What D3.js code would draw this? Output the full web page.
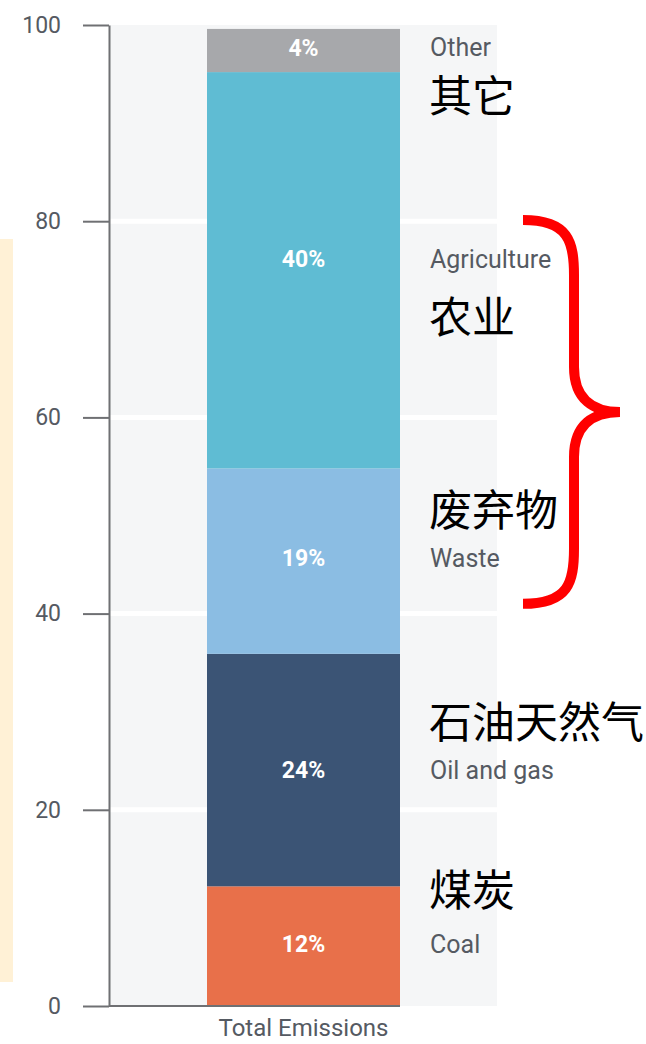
<!DOCTYPE html>
<html>
<head>
<meta charset="utf-8">
<script src="https://cdn.jsdelivr.net/npm/d3@7"></script>
<style>
  html, body { margin: 0; padding: 0; background: #ffffff; }
  svg { display: block; }
</style>
</head>
<body>
<svg id="chart" width="646" height="1044"></svg>
<script>
// Emission sources, bottom to top of the stacked column
const categories   = ["Coal", "Oil and gas", "Waste", "Agriculture", "Other"];
const categoriesZh = ["煤炭", "石油天然气", "废弃物", "农业", "其它"];
const shares       = [12.2, 23.7, 18.9, 40.4, 4.4];
const colors       = ["#e8704a", "#3b5475", "#8bbde3", "#5fbcd3", "#a7a8ab"];
const columns      = ["Total Emissions"];
const yTicks       = [0, 20, 40, 60, 80, 100];
const gridTicks    = [20, 40, 60, 80];
// Sources grouped under the red brace
const bracketGroup = ["Waste", "Agriculture"];

const svg = d3.select("#chart");
const plot = { left: 110, right: 497, top: 25, bottom: 1006 };

const y = d3.scaleLinear().domain([0, 100]).range([plot.bottom, plot.top]);
const x = d3.scaleBand().domain(columns).range([plot.left, plot.right]).padding(0.3345);

const greyText = "#555a62";
const axisGrey = "#6f7073";
const latin = "Roboto, 'Noto Sans', sans-serif";
const cjk = "'Noto Sans CJK SC', sans-serif";

// Side panel on the far left
svg.append("rect")
  .attr("x", 0).attr("y", 239).attr("width", 13).attr("height", 743)
  .attr("fill", "#fff1d6");

// Plot background with white gridlines
svg.append("rect")
  .attr("x", plot.left).attr("y", plot.top)
  .attr("width", plot.right - plot.left).attr("height", plot.bottom - plot.top)
  .attr("fill", "#f5f6f7");

svg.append("g").selectAll("line").data(gridTicks).join("line")
  .attr("x1", plot.left).attr("x2", plot.right)
  .attr("y1", d => y(d)).attr("y2", d => y(d))
  .attr("stroke", "#ffffff").attr("stroke-width", 5);

// Stacked segments
const stacked = [];
let acc = 0;
shares.forEach((v, i) => {
  stacked.push({ name: categories[i], zh: categoriesZh[i], value: v, y0: acc, y1: acc + v, color: colors[i] });
  acc += v;
});

const col = columns[0];
svg.append("g").selectAll("rect").data(stacked).join("rect")
  .attr("x", x(col)).attr("width", x.bandwidth())
  .attr("y", d => y(d.y1)).attr("height", d => y(d.y0) - y(d.y1))
  .attr("fill", d => d.color);

// Vertical nudges for the value labels (Agriculture sits a little high)
const labelNudge = [-2, 0, -3, -11, -3];

// Percent labels inside the column
svg.append("g").selectAll("text").data(stacked).join("text")
  .attr("x", x(col) + x.bandwidth() / 2)
  .attr("y", (d, i) => y((d.y0 + d.y1) / 2) + labelNudge[i])
  .attr("dy", "0.35em")
  .attr("text-anchor", "middle")
  .attr("fill", "#ffffff")
  .attr("font-family", latin).attr("font-weight", 700).attr("font-size", 23)
  .text(d => d3.format(".0f")(d.value) + "%");

// English category labels to the right of the column
const labelX = 430;
svg.append("g").selectAll("text").data(stacked).join("text")
  .attr("x", labelX)
  .attr("y", (d, i) => y((d.y0 + d.y1) / 2) + labelNudge[i])
  .attr("dy", "0.35em")
  .attr("fill", greyText)
  .attr("font-family", latin).attr("font-size", 25)
  .text(d => d.name);

// Chinese names, placed above or below the English ones
const zhOffset = [-54, -48, -48, 58, 49];
svg.append("g").selectAll("text").data(stacked).join("text")
  .attr("x", labelX - 1)
  .attr("y", (d, i) => y((d.y0 + d.y1) / 2) + labelNudge[i] + zhOffset[i])
  .attr("dy", "0.36em")
  .attr("fill", "#000000")
  .attr("font-family", cjk).attr("font-size", 43)
  .text(d => d.zh);

// Y axis
const yAxis = d3.axisLeft(y).tickValues(yTicks).tickSize(26).tickSizeOuter(0).tickPadding(22);
const gy = svg.append("g").attr("transform", `translate(${plot.left - 1},0)`).call(yAxis);
gy.select(".domain").attr("stroke", axisGrey).attr("stroke-width", 2);
gy.selectAll(".tick line").attr("stroke", axisGrey).attr("stroke-width", 2);
gy.selectAll(".tick text")
  .attr("fill", greyText).attr("font-family", latin).attr("font-size", 23);

// Baseline under the column
svg.append("line")
  .attr("x1", plot.left - 1).attr("x2", x(col) + x.bandwidth())
  .attr("y1", y(0)).attr("y2", y(0))
  .attr("stroke", axisGrey).attr("stroke-width", 2);

// Category axis label
svg.append("text")
  .attr("x", x(col) + x.bandwidth() / 2).attr("y", 1028)
  .attr("dy", "0.35em").attr("text-anchor", "middle")
  .attr("fill", greyText).attr("font-family", latin).attr("font-size", 24)
  .text(col);

// Red brace spanning the grouped sources
const grouped = stacked.filter(d => bracketGroup.includes(d.name));
const bTop = y(d3.max(grouped, d => d.y1)) + 148;
const bBot = y(d3.min(grouped, d => d.y0)) - 50;
const bx0 = 523, bx1 = 574, tipX = 620;
const bMid = (bTop + bBot) / 2;
const brace = d3.path();
brace.moveTo(bx0, bTop);
brace.bezierCurveTo(bx1 - 5, bTop, bx1, bTop + 22, bx1, bTop + 55);
brace.lineTo(bx1, bMid - 45);
brace.bezierCurveTo(bx1, bMid - 12, bx1 + 20, bMid, tipX, bMid);
brace.bezierCurveTo(bx1 + 20, bMid, bx1, bMid + 12, bx1, bMid + 45);
brace.lineTo(bx1, bBot - 55);
brace.bezierCurveTo(bx1, bBot - 22, bx1 - 5, bBot, bx0, bBot);
svg.append("path")
  .attr("d", brace.toString())
  .attr("fill", "none").attr("stroke", "#ff0000").attr("stroke-width", 10);
</script>
</body>
</html>
